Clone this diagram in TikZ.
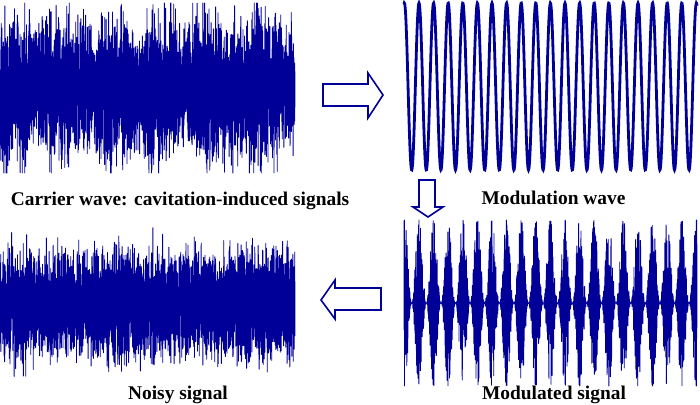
\documentclass[tikz,border=0pt]{standalone}
\usepackage{fontspec}
\setmainfont{Liberation Serif}
\definecolor{sigblue}{RGB}{0,0,153}
\begin{document}
\begin{tikzpicture}[x=1pt,y=-1pt,
  sig/.style={sigblue, line width=0.85pt, line join=round},
  sinewave/.style={sigblue, line width=2.8pt},
  blockarrow/.style={draw=sigblue, line width=1.6pt, fill=white, line join=miter},
  lab/.style={font=\fontsize{19.4}{22}\selectfont\bfseries, anchor=base, inner sep=0pt}]
\useasboundingbox (0,0) rectangle (700,404);
\pgfmathsetseed{7}
% carrier wave
\draw[sig] plot[samples=4500, domain=0:295, variable=\t]
  (\t, {88 + max(-85, min(85, (0.92+0.1*sin(7.3*\t)+0.08*sin(17.1*\t+40))*36*(rand+rand+rand)))});
% modulation wave
\draw[sinewave] plot[samples=900, domain=404:697, variable=\t]
  (\t, {86.5-83.5*cos(24.6575*(\t-404.4))});
% modulated signal
\draw[sig] plot[samples=4500, domain=404:697, variable=\t]
  (\t, {303 + (0.5+0.5*cos(24.6575*(\t-404.4)))*max(-83, min(83, 46*(rand+rand+rand)))});
% noisy signal
\draw[sig] plot[samples=4500, domain=0:295, variable=\t]
  (\t, {305 + max(-80, min(80, 40*rand + 14*(rand+rand+rand)))});
% block arrows
\draw[blockarrow] (323,84) -- (368,84) -- (368,73) -- (383,95) -- (368,118) -- (368,106) -- (323,106) -- cycle;
\draw[blockarrow] (419,180) -- (435,180) -- (435,207) -- (443,207) -- (428,217) -- (413,207) -- (419,207) -- cycle;
\draw[blockarrow] (381,288) -- (335,288) -- (335,280) -- (321,300) -- (335,319) -- (335,310) -- (381,310) -- cycle;
% labels
\node[lab] (carrierlab) at (180,205.5) {Carrier wave: cavitation-induced signals};
\node[lab] (modlab) at (553.5,204.5) {Modulation wave};
\node[lab] (noisylab) at (178,399) {Noisy signal};
\node[lab] (modsiglab) at (554,399) {Modulated signal};
\end{tikzpicture}
\end{document}
